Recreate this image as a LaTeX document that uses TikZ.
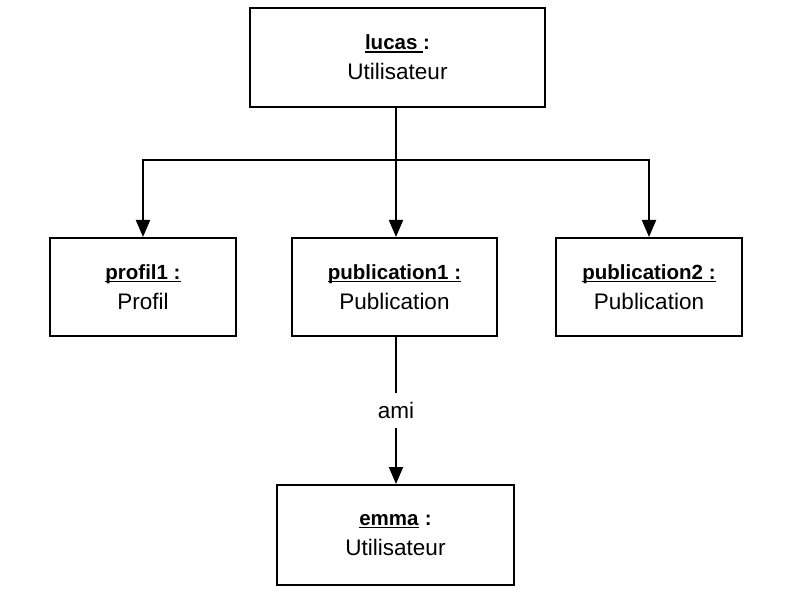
\documentclass[tikz,border=0pt]{standalone}
\usepackage{fontspec}
\setmainfont{Liberation Sans}
\usetikzlibrary{arrows.meta}
\newcommand{\myul}[1]{\setbox0\hbox{#1}\rlap{\rule[-3pt]{\wd0}{1.4pt}}\box0\relax}
\newcommand{\bl}[1]{{\fontsize{20.5}{30}\selectfont\bfseries #1}}
\tikzset{
  objbox/.style={draw=black, line width=2pt, fill=white, align=center,
    font=\fontsize{22.5}{30}\selectfont, inner sep=0pt},
  conn/.style={line width=2pt, -{Triangle[length=17pt,width=14pt]}},
  plain/.style={line width=2pt}
}
\begin{document}
\begin{tikzpicture}[x=1pt,y=-1pt]
\useasboundingbox (0,0) rectangle (800,593);
\fill[white] (0,0) rectangle (800,593);
\node[objbox, minimum width=295pt, minimum height=99pt] (lucas) at (397.5,57.5)
  {\myul{\bl{lucas }}\bl{:}\\Utilisateur};
\node[objbox, minimum width=186pt, minimum height=98pt] (profil) at (143,287)
  {\myul{\bl{profil1 :}}\\Profil};
\node[objbox, minimum width=205pt, minimum height=98pt] (pub1) at (394.5,287)
  {\myul{\bl{publication1 :}}\\Publication};
\node[objbox, minimum width=186pt, minimum height=98pt] (pub2) at (649,287)
  {\myul{\bl{publication2 :}}\\Publication};
\node[objbox, minimum width=237pt, minimum height=100pt] (emma) at (395.5,535)
  {\myul{\bl{emma}} \bl{:}\\Utilisateur};
\coordinate (bar) at (396,160);
\coordinate (lout) at (396,107);
\draw[plain] (lucas.south -| lout) -- (bar);
\draw[conn] (bar) -- (bar |- pub1.north);
\draw[conn] (bar) -| (profil.north);
\draw[conn] (bar) -| (pub2.north);
\draw[conn] (pub1.south -| bar) -- node[fill=white, inner xsep=4pt, inner ysep=9pt, font=\fontsize{22.5}{26}\selectfont] (ami) {ami} (emma.north -| bar);
\end{tikzpicture}
\end{document}
